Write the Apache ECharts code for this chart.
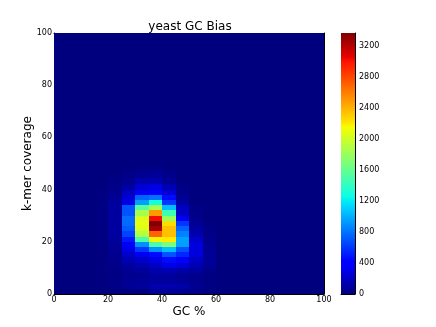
<!DOCTYPE html>
<html><head><meta charset="utf-8">
<script src="https://cdn.jsdelivr.net/npm/echarts@6/dist/echarts.min.js"></script>
<style>html,body{margin:0;padding:0;background:#fff}#c{width:436px;height:327px}</style>
</head><body><div id="c"></div>
<script>
const TITLE='yeast GC Bias', XNAME='GC %', YNAME='k-mer coverage';
const gcBinWidth=5, covBinWidth=2;
const barTop=3370;
// counts per coverage bin (starting at coverage 0), one list per GC bin start
const gc15=[0,5,5,5,5,5,5,5,5,10,10,10,10,10,10,10,10,10,5,5];
const gc20=[0,20,20,15,20,30,40,50,60,70,80,90,100,100,100,100,90,80,60,40,30,15,10];
const gc25=[0,60,60,40,60,90,150,220,300,380,500,640,720,780,790,700,700,300,250,200,100,60,30,15];
const gc30=[0,90,70,50,80,130,210,350,600,900,1500,1900,2050,2100,2050,1850,1550,950,750,350,250,150,70,30,15];
const gc35=[60,140,90,100,130,200,300,450,900,1500,2150,2700,3250,3370,3030,2500,1850,1300,800,400,300,150,90,50,20];
const gc40=[60,140,90,80,150,300,450,700,1050,1700,2200,2350,2350,2250,1800,1450,1050,600,450,250,150,70,40,20];
const gc45=[50,120,70,60,120,250,400,550,700,950,950,850,750,600,350,200,200,100,60,40,20];
const gc50=[30,50,40,40,100,150,200,280,280,280,220,130,100,60,40,30,20];
const gc55=[5,15,10,10,30,60,70,70,60,50,40,30,20,10];
const gcBins=[[15,gc15],[20,gc20],[25,gc25],[30,gc30],[35,gc35],[40,gc40],[45,gc45],[50,gc50],[55,gc55]];
const jet=[[0,'#00007f'],[.11,'#0000ff'],[.125,'#0000ff'],[.34,'#00dbff'],[.35,'#00e5f6'],[.375,'#0cfee6'],[.64,'#f6ff00'],[.65,'#ffed00'],[.66,'#ffe200'],[.89,'#ff1300'],[.91,'#e40000'],[1,'#7f0000']];
const cells=[];
for(let x=0;x<100;x+=gcBinWidth)for(let y=0;y<100;y+=covBinWidth){
  const b=gcBins.find(g=>g[0]===x);
  cells.push([x,y,b&&b[1][y/covBinWidth]||0]);
}
const F='"DejaVu Sans"';
const frame={show:true,onZero:false,lineStyle:{color:'#000',width:1}};
const tick={show:true,inside:true,length:2.5,lineStyle:{color:'#000',width:.6}};
const mirror=(type,position)=>({type,gridIndex:0,position,min:0,max:100,interval:20,axisLine:frame,
  axisTick:tick,axisLabel:{show:false},splitLine:{show:false}});
const main=(type,name,gap)=>({type,gridIndex:0,min:0,max:100,interval:20,axisLine:frame,name,nameLocation:'middle',nameGap:gap,nameMoveOverlap:false,
  nameTextStyle:{fontFamily:F,fontSize:12,color:'#000'},
  axisTick:tick,
  axisLabel:{fontFamily:F,fontSize:8,color:'#000',margin:2},splitLine:{show:false}});
const chart=echarts.init(document.getElementById('c'),null,{renderer:'canvas'});
chart.setOption({
  animation:false,backgroundColor:'#fff',
  title:{text:TITLE,left:185,top:16,textAlign:'center',textStyle:{fontFamily:F,fontSize:12,fontWeight:'normal',color:'#000'}},
  grid:[{left:54,top:33,width:270,height:261,outerBoundsMode:'none'},{left:341,top:33,width:14,height:261,outerBoundsMode:'none'}],
  xAxis:[main('value',XNAME,12),mirror('value','top'),
    {type:'category',gridIndex:1,data:[''],axisLine:frame,axisTick:{show:false},axisLabel:{show:false}}],
  yAxis:[main('value',YNAME,20),mirror('value','right'),
    {type:'value',gridIndex:1,position:'right',min:0,max:barTop,interval:400,axisLine:frame,
     axisTick:tick,
     axisLabel:{fontFamily:F,fontSize:8,color:'#000',margin:4,showMaxLabel:false,formatter:v=>String(v)},splitLine:{show:false}}],
  visualMap:{show:false,type:'continuous',seriesIndex:0,dimension:2,min:0,max:barTop,inRange:{color:jetSample(40)}},
  series:[
   {type:'custom',xAxisIndex:0,yAxisIndex:0,data:cells,encode:{x:0,y:1},silent:true,
    renderItem(p,api){const x=api.value(0),y=api.value(1);
      const a=api.coord([x,y+covBinWidth]),b=api.coord([x+gcBinWidth,y]);
      const l=Math.round(a[0]),t=Math.round(a[1]),r=Math.round(b[0]),o=Math.round(b[1]);
      return {type:'rect',shape:{x:l,y:t,width:r-l,height:o-t},style:{fill:api.visual('color')}};}},
   {type:'bar',xAxisIndex:2,yAxisIndex:2,data:[barTop],barWidth:'100%',silent:true,
    itemStyle:{color:new echarts.graphic.LinearGradient(0,1,0,0,jet.map(s=>({offset:s[0],color:s[1]})))}}
  ]
});
function jetSample(N){
  const hex=c=>[1,3,5].map(i=>parseInt(c.substr(i,2),16));
  const out=[];
  for(let i=0;i<=N;i++){const t=i/N;let k=0;while(k<jet.length-2&&jet[k+1][0]<t)k++;
    const [a,ca]=jet[k],[b,cb]=jet[k+1];const u=(t-a)/(b-a);const A=hex(ca),B=hex(cb);
    out.push('rgb('+A.map((v,j)=>Math.round(v+(B[j]-v)*u)).join(',')+')');}
  return out;
}
</script></body></html>
